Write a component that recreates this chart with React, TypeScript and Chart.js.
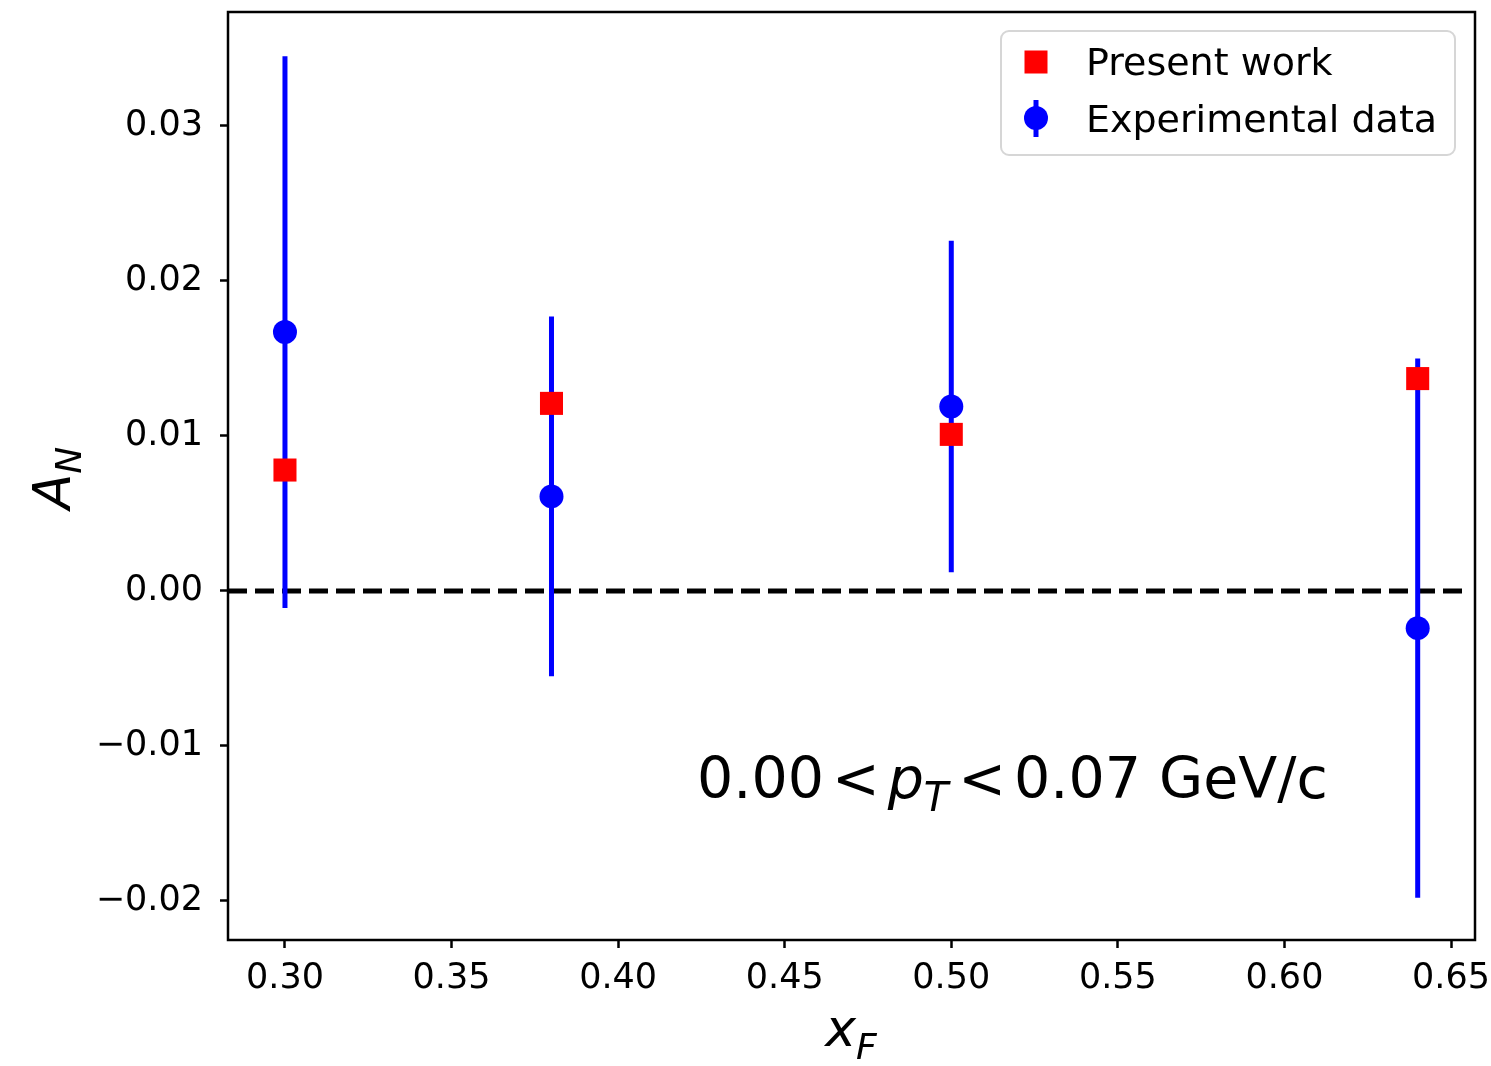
import { useEffect, useRef } from "react";
import { Chart, registerables } from "chart.js";

Chart.register(...registerables);

// Feynman-x bins
const xF = [0.3, 0.38, 0.5, 0.64];
// Model asymmetry ("Present work")
const presentWork = [0.0078, 0.0121, 0.0101, 0.0137];
// Measured asymmetry and its uncertainty
const experimental = [0.0167, 0.0061, 0.0119, -0.0024];
const experimentalErr = [0.0178, 0.0116, 0.0107, 0.0174];

const xTicks = [0.3, 0.35, 0.4, 0.45, 0.5, 0.55, 0.6, 0.65];
const yTicks = [-0.02, -0.01, 0.0, 0.01, 0.02, 0.03];

const X_MIN = 0.2829;
const X_MAX = 0.6572;
const Y_MIN = -0.02252;
const Y_MAX = 0.03735;

const FONT = "'DejaVu Sans', sans-serif";
const RED = "#ff0000";
const BLUE = "#0000ff";

type Run = { text: string; size: number; italic?: boolean; dy?: number; gap?: number };

function runFont(r: Run) {
  return `${r.italic ? "italic " : ""}${r.size}px ${FONT}`;
}

function runsWidth(ctx: CanvasRenderingContext2D, runs: Run[]) {
  let w = 0;
  for (const r of runs) {
    ctx.font = runFont(r);
    w += ctx.measureText(r.text).width + (r.gap ?? 0);
  }
  return w;
}

function drawRuns(ctx: CanvasRenderingContext2D, runs: Run[], x: number, y: number) {
  let cx = x;
  ctx.textBaseline = "alphabetic";
  ctx.textAlign = "left";
  for (const r of runs) {
    ctx.font = runFont(r);
    ctx.fillText(r.text, cx, y + (r.dy ?? 0));
    cx += ctx.measureText(r.text).width + (r.gap ?? 0);
  }
}

const fmtMinus = (v: number, d: number) => {
  const s = Math.abs(v) < 1e-12 ? (0).toFixed(d) : v.toFixed(d);
  return s.replace("-", "\u2212");
};

// keep the plot box fixed: no extra room reserved for edge tick labels
const noEdgePadding = (s: any) => {
  s.paddingTop = 0;
  s.paddingBottom = 0;
  s.paddingLeft = 0;
  s.paddingRight = 0;
};

const decorations = {
  id: "decorations",
  beforeDraw(chart: any) {
    const { ctx, width, height } = chart;
    ctx.save();
    ctx.fillStyle = "#ffffff";
    ctx.fillRect(0, 0, width, height);
    ctx.restore();
  },
  beforeDatasetsDraw(chart: any) {
    const { ctx, chartArea, scales } = chart;
    const { x, y } = scales;
    ctx.save();
    // zero reference line
    ctx.strokeStyle = "#000000";
    ctx.lineWidth = 5;
    ctx.setLineDash([19, 8]);
    ctx.beginPath();
    const y0 = y.getPixelForValue(0);
    ctx.moveTo(chartArea.left, y0);
    ctx.lineTo(chartArea.right - 5, y0);
    ctx.stroke();
    ctx.setLineDash([]);
    // vertical error bars of the measured points
    ctx.strokeStyle = BLUE;
    ctx.lineWidth = 5;
    xF.forEach((v, i) => {
      const px = x.getPixelForValue(v);
      ctx.beginPath();
      ctx.moveTo(px, y.getPixelForValue(experimental[i] + experimentalErr[i]));
      ctx.lineTo(px, y.getPixelForValue(experimental[i] - experimentalErr[i]));
      ctx.stroke();
    });
    ctx.restore();
  },
  afterDraw(chart: any) {
    const { ctx, chartArea } = chart;
    ctx.save();
    // axes frame
    ctx.strokeStyle = "#000000";
    ctx.lineWidth = 2.5;
    ctx.strokeRect(chartArea.left, chartArea.top, chartArea.right - chartArea.left, chartArea.bottom - chartArea.top);

    ctx.fillStyle = "#000000";
    // x-axis title: x_F
    const xl: Run[] = [
      { text: "x", size: 52, italic: true },
      { text: "F", size: 36, italic: true, dy: 13 },
    ];
    const xw = runsWidth(ctx, xl);
    drawRuns(ctx, xl, 851 - xw / 2, 1046);

    // y-axis title: A_N
    const yl: Run[] = [
      { text: "A", size: 52, italic: true },
      { text: "N", size: 36, italic: true, dy: 11 },
    ];
    const yw = runsWidth(ctx, yl);
    ctx.save();
    ctx.translate(70, 478);
    ctx.rotate(-Math.PI / 2);
    drawRuns(ctx, yl, -yw / 2, 0);
    ctx.restore();

    // kinematic range annotation
    const ann: Run[] = [
      { text: "0.00", size: 57, gap: 8 },
      { text: "<", size: 57, gap: 8 },
      { text: "p", size: 57, italic: true },
      { text: "T", size: 40, italic: true, dy: 13, gap: 10 },
      { text: "<", size: 57, gap: 8 },
      { text: "0.07 GeV/c", size: 57 },
    ];
    drawRuns(ctx, ann, 697, 798);

    // legend
    const bx = 1001, by = 31, bw = 454, bh = 124, r = 8;
    ctx.beginPath();
    ctx.moveTo(bx + r, by);
    ctx.arcTo(bx + bw, by, bx + bw, by + bh, r);
    ctx.arcTo(bx + bw, by + bh, bx, by + bh, r);
    ctx.arcTo(bx, by + bh, bx, by, r);
    ctx.arcTo(bx, by, bx + bw, by, r);
    ctx.closePath();
    ctx.fillStyle = "rgba(255,255,255,0.8)";
    ctx.fill();
    ctx.strokeStyle = "#d6d6d6";
    ctx.lineWidth = 2;
    ctx.stroke();

    const labels = chart.data.datasets.map((d: any) => d.label);
    // red square
    ctx.fillStyle = RED;
    ctx.fillRect(1036 - 11.5, 62 - 11.5, 23, 23);
    // blue point with error bar
    ctx.strokeStyle = BLUE;
    ctx.lineWidth = 5;
    ctx.beginPath();
    ctx.moveTo(1036, 100);
    ctx.lineTo(1036, 137);
    ctx.stroke();
    ctx.fillStyle = BLUE;
    ctx.beginPath();
    ctx.arc(1036, 118, 12, 0, Math.PI * 2);
    ctx.fill();

    ctx.fillStyle = "#000000";
    ctx.font = `38px ${FONT}`;
    ctx.textAlign = "left";
    ctx.textBaseline = "alphabetic";
    ctx.fillText(labels[0], 1086, 75);
    ctx.fillText(labels[1], 1086, 132);
    ctx.restore();
  },
};

export default function App() {
  const canvasRef = useRef<HTMLCanvasElement | null>(null);

  useEffect(() => {
    const canvas = canvasRef.current;
    if (!canvas) return;
    const chart = new Chart(canvas, {
      type: "scatter",
      data: {
        datasets: [
          {
            label: "Present work",
            data: xF.map((v, i) => ({ x: v, y: presentWork[i] })),
            pointStyle: "rect",
            pointRadius: 16.3,
            pointHoverRadius: 16.3,
            backgroundColor: RED,
            borderColor: RED,
            borderWidth: 0,
          },
          {
            label: "Experimental data",
            data: xF.map((v, i) => ({ x: v, y: experimental[i] })),
            pointStyle: "circle",
            pointRadius: 12,
            pointHoverRadius: 12,
            backgroundColor: BLUE,
            borderColor: BLUE,
            borderWidth: 0,
          },
        ],
      },
      options: {
        animation: false,
        responsive: true,
        maintainAspectRatio: false,
        events: [],
        layout: { autoPadding: false, padding: { left: 0, top: 12, right: 16, bottom: 0 } },
        plugins: {
          legend: { display: false },
          tooltip: { enabled: false },
        },
        scales: {
          x: {
            type: "linear",
            min: X_MIN,
            max: X_MAX,
            afterFit: (s: any) => {
              s.height = 126;
              noEdgePadding(s);
            },
            afterBuildTicks: (s: any) => {
              s.ticks = xTicks.map((v) => ({ value: v }));
            },
            ticks: {
              color: "#000000",
              font: { family: FONT, size: 35 },
              padding: 10,
              maxRotation: 0,
              autoSkip: false,
              callback: (v: any) => fmtMinus(Number(v), 2),
            },
            grid: {
              display: true,
              drawOnChartArea: false,
              drawTicks: true,
              tickLength: 8,
              tickWidth: 2.5,
              tickColor: "#000000",
            },
            border: { display: false },
          },
          y: {
            type: "linear",
            min: Y_MIN,
            max: Y_MAX,
            afterFit: (s: any) => {
              s.width = 228;
              noEdgePadding(s);
            },
            afterBuildTicks: (s: any) => {
              s.ticks = yTicks.map((v) => ({ value: v }));
            },
            ticks: {
              color: "#000000",
              font: { family: FONT, size: 35 },
              padding: 17,
              autoSkip: false,
              callback: (v: any) => fmtMinus(Number(v), 2),
            },
            grid: {
              display: true,
              drawOnChartArea: false,
              drawTicks: true,
              tickLength: 8,
              tickWidth: 2.5,
              tickColor: "#000000",
            },
            border: { display: false },
          },
        },
      },
      plugins: [decorations],
    });
    return () => chart.destroy();
  }, []);

  return (
    <div style={{ position: "absolute", left: 0, top: 0, width: 1491, height: 1066, background: "#ffffff" }}>
      <canvas ref={canvasRef} style={{ width: "100%", height: "100%" }} />
    </div>
  );
}
